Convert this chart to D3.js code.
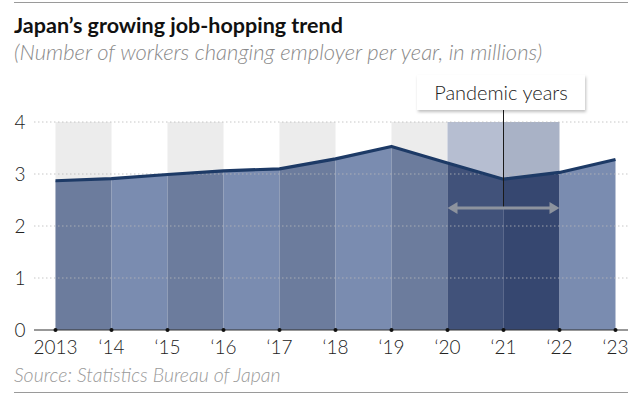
<!DOCTYPE html>
<html>
<head>
<meta charset="utf-8">
<script src="https://cdn.jsdelivr.net/npm/d3@7"></script>
<style>
  body { margin: 0; background: #fff; }
  svg { display: block; font-family: Lato, "Open Sans", sans-serif; }
</style>
</head>
<body>
<svg id="chart"></svg>
<script>
const WIDTH = 642;
const HEIGHT = 395;

// data
const years = [2013, 2014, 2015, 2016, 2017, 2018, 2019, 2020, 2021, 2022, 2023];
const yearLabels = ["2013", "\u201814", "\u201815", "\u201816", "\u201817", "\u201818", "\u201819", "\u201820", "\u201821", "\u201822", "\u201823"];
const workers = [2.87, 2.91, 2.99, 3.06, 3.10, 3.29, 3.53, 3.21, 2.90, 3.03, 3.28];
const yTicks = [0, 1, 2, 3, 4];
const pandemicYears = [2020, 2022];

window.onload = function(){
    makeChart();
};

function makeChart(){
    const svg = d3.select('#chart')
        .attr('width', WIDTH)
        .attr('height', HEIGHT);

    const x = d3.scaleLinear().domain([2013, 2023]).range([55.5, 615.5]);
    const y = d3.scaleLinear().domain([0, 4]).range([330, 122]);

    // top and bottom rules
    svg.append('line').attr('x1', 14).attr('x2', 628).attr('y1', 2.5).attr('y2', 2.5)
        .style('stroke', '#9a9a9a').style('stroke-width', 1);
    svg.append('line').attr('x1', 14).attr('x2', 628).attr('y1', 392.5).attr('y2', 392.5)
        .style('stroke', '#9a9a9a').style('stroke-width', 1);

    // titles
    svg.append('text').attr('x', 14).attr('y', 33)
        .style('font-size', '21.5px').style('font-weight', 'bold').style('fill', '#111')
        .text('Japan\u2019s growing job-hopping trend');
    svg.append('text').attr('x', 14).attr('y', 60)
        .style('font-size', '22px').style('font-style', 'italic').style('font-weight', 300).style('fill', '#8a8a8a')
        .text('(Number of workers changing employer per year, in millions)');

    // one segment per year interval
    const segs = d3.range(years.length - 1).map(i => ({
        i: i, x0: years[i], x1: years[i + 1], v0: workers[i], v1: workers[i + 1]
    }));
    const isPandemic = d => d.x0 >= pandemicYears[0] && d.x1 <= pandemicYears[1];

    const bgColor = d => {
        if (isPandemic(d)) return d.x0 === 2020 ? '#b6bed1' : '#a9b2c6';
        return d.i % 2 === 0 ? '#ececec' : 'none';
    };
    const areaColor = d => {
        if (isPandemic(d)) return d.x0 === 2020 ? '#41527a' : '#364770';
        return d.i % 2 === 0 ? '#6c7c9d' : '#7a8cb0';
    };

    // background stripes
    svg.append('g').selectAll('rect')
        .data(segs)
        .enter()
        .append('rect')
        .attr('x', d => x(d.x0))
        .attr('width', d => x(d.x1) - x(d.x0))
        .attr('y', y(4))
        .attr('height', y(0) - y(4))
        .style('fill', bgColor);

    // area pieces
    svg.append('g').selectAll('path')
        .data(segs)
        .enter()
        .append('path')
        .attr('d', d => 'M' + x(d.x0) + ',' + y(0) + 'L' + x(d.x0) + ',' + y(d.v0) +
            'L' + x(d.x1) + ',' + y(d.v1) + 'L' + x(d.x1) + ',' + y(0) + 'Z')
        .style('fill', areaColor);

    // dotted gridlines
    svg.append('g').selectAll('line')
        .data(yTicks.filter(t => t > 0))
        .enter()
        .append('line')
        .attr('x1', 34).attr('x2', 630)
        .attr('y1', d => y(d)).attr('y2', d => y(d))
        .style('stroke', '#b8b8b8').style('stroke-width', 1)
        .style('stroke-dasharray', '1.5,2.5').style('opacity', 0.8);

    // line
    const line = d3.line().x((d, i) => x(years[i])).y(d => y(d));
    svg.append('path')
        .datum(workers)
        .attr('d', line)
        .style('fill', 'none')
        .style('stroke', '#1d3a66')
        .style('stroke-width', 3.2)
        .style('stroke-linejoin', 'round');

    // x axis
    svg.append('line').attr('x1', 34).attr('x2', 628).attr('y1', y(0)).attr('y2', y(0))
        .style('stroke', '#333').style('stroke-width', 1.2);
    svg.append('g').selectAll('circle')
        .data(years)
        .enter()
        .append('circle')
        .attr('cx', d => x(d)).attr('cy', y(0)).attr('r', 2)
        .style('fill', '#111');
    svg.append('g').selectAll('text')
        .data(years)
        .enter()
        .append('text')
        .attr('x', d => x(d)).attr('y', 354)
        .attr('text-anchor', 'middle')
        .style('font-size', '19px').style('font-weight', 300).style('fill', '#222')
        .text((d, i) => yearLabels[i]);

    // y axis labels
    svg.append('g').selectAll('text')
        .data(yTicks)
        .enter()
        .append('text')
        .attr('x', 20).attr('y', d => y(d) + 7)
        .attr('text-anchor', 'middle')
        .style('font-size', '19px').style('font-weight', 300).style('fill', '#222')
        .text(d => d);

    // pandemic annotation
    const midX = x(2021);
    svg.append('line').attr('x1', midX).attr('x2', midX).attr('y1', 110).attr('y2', 208)
        .style('stroke', '#1a1a1a').style('stroke-width', 1);

    const defs = svg.append('defs');
    const filt = defs.append('filter').attr('id', 'shadow').attr('x', '-10%').attr('y', '-20%')
        .attr('width', '130%').attr('height', '160%');
    filt.append('feDropShadow').attr('dx', 1).attr('dy', 2).attr('stdDeviation', 1.5)
        .attr('flood-color', '#000').attr('flood-opacity', 0.25);

    svg.append('rect').attr('x', 417).attr('y', 75).attr('width', 168).attr('height', 35)
        .style('fill', '#fff').attr('filter', 'url(#shadow)');
    svg.append('text').attr('x', 501).attr('y', 100)
        .attr('text-anchor', 'middle')
        .style('font-size', '20px').style('font-weight', 300).style('fill', '#222')
        .text('Pandemic years');

    // double arrow
    const ax0 = x(pandemicYears[0]), ax1 = x(pandemicYears[1]), ay = 208;
    svg.append('line').attr('x1', ax0 + 6).attr('x2', ax1 - 6).attr('y1', ay).attr('y2', ay)
        .style('stroke', '#8d939e').style('stroke-width', 3);
    svg.append('path')
        .attr('d', 'M' + ax0 + ',' + ay + 'l10,-6l0,12Z')
        .style('fill', '#8d939e');
    svg.append('path')
        .attr('d', 'M' + ax1 + ',' + ay + 'l-10,-6l0,12Z')
        .style('fill', '#8d939e');

    // source
    svg.append('text').attr('x', 14).attr('y', 382)
        .style('font-size', '19.5px').style('font-style', 'italic').style('font-weight', 300).style('fill', '#9a9a9a')
        .text('Source: Statistics Bureau of Japan');
}
</script>
</body>
</html>
